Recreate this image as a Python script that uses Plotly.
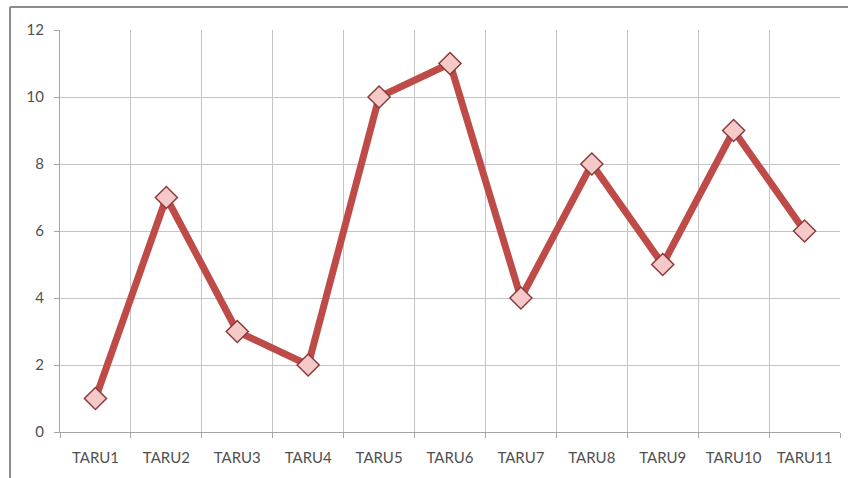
import plotly.graph_objects as go

# Series data
categories = ["TARU1", "TARU2", "TARU3", "TARU4", "TARU5", "TARU6",
              "TARU7", "TARU8", "TARU9", "TARU10", "TARU11"]
values = [1, 7, 3, 2, 10, 11, 4, 8, 5, 9, 6]
y_ticks = [0, 2, 4, 6, 8, 10, 12]

W, H = 848, 478
L, R, T, B = 60, 8, 30, 46
pw, ph = W - L - R, H - T - B

def px_x(x):
    return (x - L) / pw

def px_y(y):
    return (H - B - y) / ph

fig = go.Figure()
fig.add_trace(go.Scatter(
    x=categories, y=values, mode="lines+markers",
    line=dict(color="#BE4B48", width=7),
    marker=dict(symbol="diamond", size=17, color="#F4C9C8",
                line=dict(color="#8C3A3A", width=1.5)),
    showlegend=False,
))

axis_font = dict(family="Lato, 'Open Sans', sans-serif", size=15, color="#505050")

fig.update_xaxes(
    type="category", tickson="boundaries",
    showgrid=True, gridcolor="#C4C4C4", gridwidth=1,
    showline=True, linecolor="#A6A6A6", linewidth=1,
    ticks="outside", ticklen=5, tickcolor="#A6A6A6",
    tickfont=axis_font, range=[-0.5, 10.5], ticklabelstandoff=12,
)
fig.update_yaxes(
    range=[0, 12], tickvals=y_ticks,
    showgrid=True, gridcolor="#C4C4C4", gridwidth=1,
    showline=True, linecolor="#A6A6A6", linewidth=1,
    ticks="outside", ticklen=5, tickcolor="#A6A6A6",
    tickfont=axis_font, zeroline=False, ticklabelstandoff=7,
)

# Outer chart frame (top and left edges)
frame = dict(color="#8C8C8C", width=2)
fig.add_shape(type="line", xref="paper", yref="paper",
              x0=px_x(10), x1=px_x(W + 5), y0=px_y(7), y1=px_y(7), line=frame)
fig.add_shape(type="line", xref="paper", yref="paper",
              x0=px_x(10), x1=px_x(10), y0=px_y(7), y1=px_y(H + 5), line=frame)

fig.update_layout(
    width=W, height=H,
    margin=dict(l=L, r=R, t=T, b=B),
    paper_bgcolor="white", plot_bgcolor="white",
)

fig.write_html("out.html")
